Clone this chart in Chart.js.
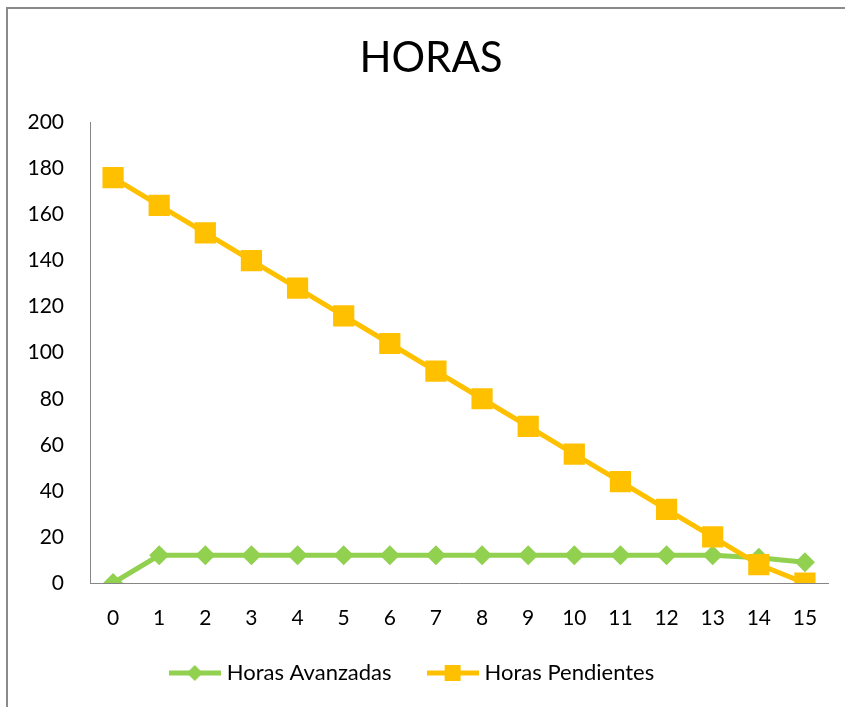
<!DOCTYPE html>
<html lang="es">
<head>
  <meta charset="UTF-8" />
  <title>HORAS</title>
  <script src="https://cdn.jsdelivr.net/npm/chart.js"></script>
  <style>
    body {
      margin: 0;
      background: #fff;
    }
    #wrap {
      position: relative;
      width: 845px;
      height: 707px;
    }
    #frame {
      position: absolute;
      left: 6px;
      top: 7px;
      right: 0;
      bottom: 0;
      border-top: 2px solid #8a8a8a;
      border-left: 2px solid #8a8a8a;
      pointer-events: none;
    }
  </style>
</head>
<body>
  <div id="wrap">
    <canvas id="horasChart" width="845" height="707"></canvas>
    <div id="frame"></div>
  </div>

  <script>
    const dias = ['0', '1', '2', '3', '4', '5', '6', '7', '8', '9', '10', '11', '12', '13', '14', '15'];
    const horasAvanzadas = [0, 12, 12, 12, 12, 12, 12, 12, 12, 12, 12, 12, 12, 12, 11, 9];
    const horasPendientes = [176, 164, 152, 140, 128, 116, 104, 92, 80, 68, 56, 44, 32, 20, 8, 0];

    const verde = '#92D050';
    const naranja = '#FFC000';
    const fuente = 'Lato, "Open Sans", sans-serif';

    // small legend icons: line with marker in the middle
    function legendIcon(color, shape) {
      const c = document.createElement('canvas');
      c.width = 52;
      c.height = 22;
      const g = c.getContext('2d');
      g.strokeStyle = color;
      g.lineWidth = 5;
      g.beginPath();
      g.moveTo(0, 11);
      g.lineTo(52, 11);
      g.stroke();
      g.fillStyle = color;
      if (shape === 'diamond') {
        g.beginPath();
        g.moveTo(26, 3);
        g.lineTo(34, 11);
        g.lineTo(26, 19);
        g.lineTo(18, 11);
        g.closePath();
        g.fill();
      } else {
        g.fillRect(18, 3, 16, 16);
      }
      return c;
    }

    // nudge title right and legend up, like the Excel original
    const ajusteExcel = {
      id: 'ajusteExcel',
      afterLayout(chart) {
        if (chart.titleBlock) chart.titleBlock.left += 34;
        if (chart.legend) {
          chart.legend.top -= 11;
          chart.legend.bottom -= 11;
        }
      }
    };

    const ctx = document.getElementById('horasChart').getContext('2d');
    new Chart(ctx, {
      type: 'line',
      data: {
        labels: dias,
        datasets: [
          {
            label: 'Horas Avanzadas',
            data: horasAvanzadas,
            borderColor: verde,
            backgroundColor: verde,
            borderWidth: 5,
            pointStyle: 'rectRot',
            pointRadius: 10,
            pointBorderWidth: 0,
            tension: 0,
            order: 2
          },
          {
            label: 'Horas Pendientes',
            data: horasPendientes,
            borderColor: naranja,
            backgroundColor: naranja,
            borderWidth: 5,
            pointStyle: 'rect',
            pointRadius: 15,
            pointBorderWidth: 0,
            tension: 0,
            order: 1
          }
        ]
      },
      plugins: [ajusteExcel],
      options: {
        responsive: false,
        animation: false,
        layout: {
          padding: { left: 0, right: 17, top: 0, bottom: 2 }
        },
        plugins: {
          tooltip: { enabled: false },
          title: {
            display: true,
            text: 'HORAS',
            color: '#000',
            font: { family: fuente, size: 42, weight: 'normal' },
            padding: { top: 33, bottom: 39 }
          },
          legend: {
            position: 'bottom',
            labels: {
              usePointStyle: true,
              pointStyleWidth: 42,
              padding: 40,
              color: '#000',
              font: { family: fuente, size: 22 },
              generateLabels: function (chart) {
                return [
                  { text: 'Horas Avanzadas', pointStyle: legendIcon(verde, 'diamond'), fillStyle: verde, strokeStyle: verde, lineWidth: 0, datasetIndex: 0, hidden: false },
                  { text: 'Horas Pendientes', pointStyle: legendIcon(naranja, 'square'), fillStyle: naranja, strokeStyle: naranja, lineWidth: 0, datasetIndex: 1, hidden: false }
                ];
              }
            }
          }
        },
        scales: {
          x: {
            offset: true,
            grid: { display: false, drawTicks: false },
            border: { color: '#868686', width: 1 },
            ticks: {
              color: '#000',
              padding: 23,
              maxRotation: 0,
              autoSkip: false,
              font: { family: fuente, size: 21 }
            },
            afterFit: function (scale) { scale.height = 50; }
          },
          y: {
            min: 0,
            max: 200,
            grid: { display: false, drawTicks: false },
            border: { color: '#868686', width: 1 },
            ticks: {
              stepSize: 20,
              color: '#000',
              padding: 26,
              font: { family: fuente, size: 21 }
            },
            afterFit: function (scale) { scale.width = 90; }
          }
        }
      }
    });
  </script>
</body>
</html>
